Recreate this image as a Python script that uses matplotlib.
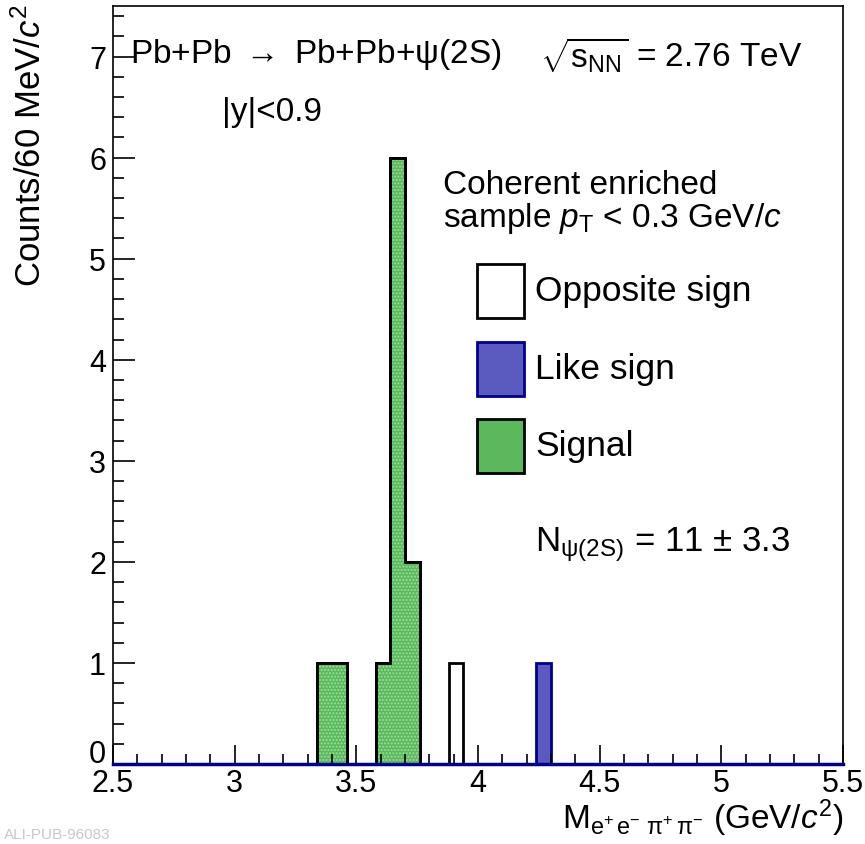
import numpy as np
import matplotlib
matplotlib.use("Agg")
import matplotlib.pyplot as plt
import matplotlib.transforms as mtransforms

plt.rcParams['font.family'] = ['Liberation Sans', 'DejaVu Sans']
plt.rcParams['mathtext.fontset'] = 'custom'
plt.rcParams['mathtext.rm'] = 'Liberation Sans'
plt.rcParams['mathtext.it'] = 'Liberation Sans:italic'
plt.rcParams['mathtext.sf'] = 'Liberation Sans'

# 60 MeV bins from 2.5 to 5.5 GeV/c^2
bin_width = 0.06
x_min, x_max = 2.5, 5.5

# filled bins (bin centres) and their counts
opposite_centres = [3.37, 3.43, 3.61, 3.67, 3.73, 3.91]
opposite_counts = [1, 1, 1, 6, 2, 1]
like_centres = [4.27]
like_counts = [1]
signal_centres = [3.37, 3.43, 3.61, 3.67, 3.73]
signal_counts = [1, 1, 1, 6, 2]

green = '#5cb85c'
blue = '#5a5abf'
navy = '#000090'
fs = 24


def make_hist(centres, counts):
    edges = np.round(np.arange(x_min, x_max + bin_width / 2, bin_width), 4)
    h, _ = np.histogram(centres, bins=edges, weights=counts)
    return h, edges


def px(x, y):
    return (x / 865, 1 - y / 845)


fig = plt.figure(figsize=(8.65, 8.45), dpi=100)
ax = fig.add_axes([113 / 865, 80 / 845, 730 / 865, 758 / 845])

h, e = make_hist(opposite_centres, opposite_counts)
ax.stairs(h, e, fill=True, facecolor='white', edgecolor='black', lw=2)
h, e = make_hist(signal_centres, signal_counts)
ax.stairs(h, e, fill=True, facecolor=green, edgecolor='black', lw=2)
ax.stairs(h, e, fill=True, facecolor='none', edgecolor='#9be09b', lw=0, hatch='.....')
ax.stairs(h, e, fill=False, edgecolor='black', lw=2)
h, e = make_hist(like_centres, like_counts)
ax.stairs(h, e, fill=True, facecolor=blue, edgecolor=navy, lw=2)
ax.axhline(0, color=navy, lw=2.5, clip_on=False, zorder=5)

ax.set_xlim(x_min, x_max)
ax.set_ylim(0, 7.5)
ax.set_xticks(np.arange(2.5, 5.51, 0.5))
ax.set_xticks(np.arange(2.5, 5.51, 0.1), minor=True)
ax.set_xticklabels(['2.5', '3', '3.5', '4', '4.5', '5', '5.5'])
ax.set_yticks(np.arange(0, 8, 1))
ax.set_yticks(np.arange(0, 7.5, 0.2), minor=True)
ax.tick_params(axis='both', which='both', direction='in', top=False, right=False,
               labelsize=22, width=1.2)
ax.tick_params(axis='x', which='major', length=14, pad=3)
ax.tick_params(axis='x', which='minor', length=7)
ax.tick_params(axis='y', which='major', length=16, pad=5)
ax.tick_params(axis='y', which='minor', length=8)
for s in ax.spines.values():
    s.set_linewidth(1.2)
# ROOT draws the zero label a little above the axis
zero_lab = ax.yaxis.get_major_ticks()[0].label1
zero_lab.set_transform(zero_lab.get_transform()
                       + mtransforms.ScaledTranslation(0, 10 / 72, fig.dpi_scale_trans))

fig.text(0.035, 0.994, r'Counts/60 MeV/$\mathit{c}^{2}$', rotation=90,
         ha='center', va='top', fontsize=25)
fig.text(843 / 865, 1 - 818 / 845,
         r'M$_{\mathrm{e^{+}\,e^{-}\ \pi^{+}\,\pi^{-}}}$ (GeV/$\mathit{c}^{2}$)',
         ha='right', va='center', fontsize=fs)

fig.text(*px(130, 55), r'Pb+Pb $\rightarrow$ Pb+Pb+ψ(2S)', ha='left', va='center', fontsize=fs)
fig.text(*px(540, 55), r'$\sqrt{\mathrm{s_{NN}}}$ = 2.76 TeV', ha='left', va='center', fontsize=fs)
fig.text(*px(222, 112), '|y|<0.9', ha='left', va='center', fontsize=fs)
fig.text(*px(443, 185), 'Coherent enriched', ha='left', va='center', fontsize=fs)
fig.text(*px(443, 219), r'sample $\mathit{p}_{\mathrm{T}}$ < 0.3 GeV/$\mathit{c}$',
         ha='left', va='center', fontsize=fs)

legend_items = [('Opposite sign', 'white', 'black', 292),
                ('Like sign', blue, navy, 370),
                ('Signal', green, 'black', 447)]
for label, fc, ec, yc in legend_items:
    x0, y0 = px(477, yc + 27)
    fig.patches.append(plt.Rectangle((x0, y0), 47 / 865, 54 / 845, transform=fig.transFigure,
                                     facecolor=fc, edgecolor=ec, lw=2))
    fig.text(*px(535, yc), label, ha='left', va='center', fontsize=25.5)

fig.text(*px(535, 545), r'N$_{\mathrm{\psi(2S)}}$ = 11 $\pm$ 3.3', ha='left', va='center', fontsize=25)

fig.text(0.005, 0.012, 'ALI-PUB-96083', color='#c8c8c8', fontsize=11, ha='left', va='center')

fig.savefig('out.png', dpi=100)
